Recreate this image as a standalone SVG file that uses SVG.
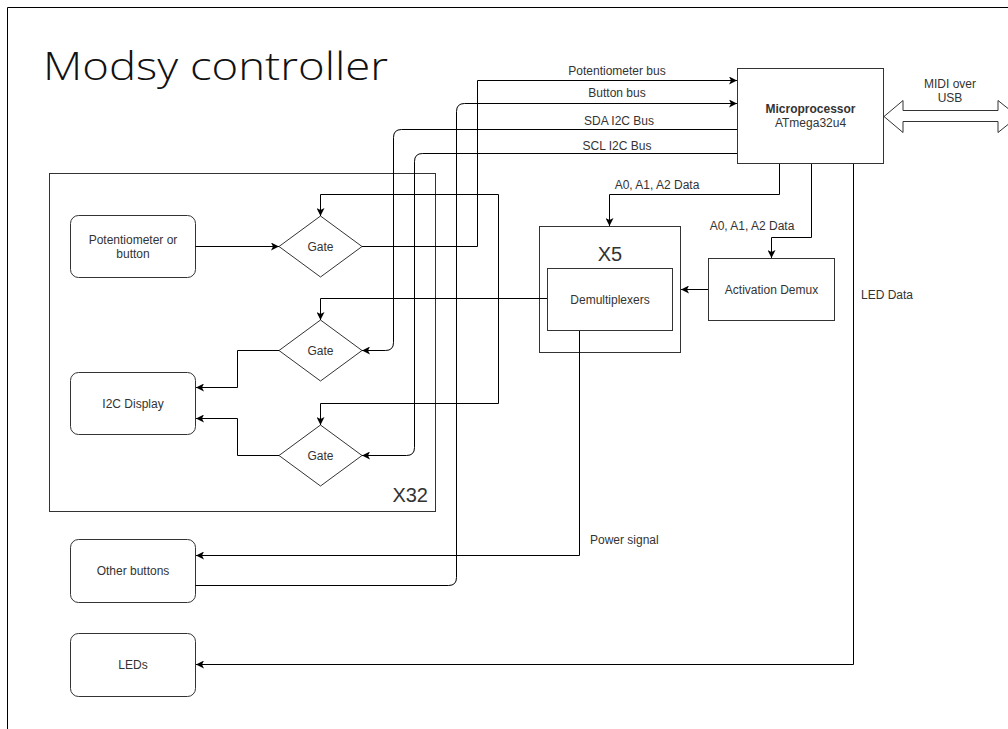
<svg xmlns="http://www.w3.org/2000/svg" width="1008" height="729" viewBox="0 0 1008 729">
  <style>
    .frame { fill: none; stroke: #000; stroke-width: 1; }
    .box { fill: #fff; stroke: #333; stroke-width: 1; }
    .wire { fill: none; stroke: #000; stroke-width: 1; }
    .wire-end { fill: none; stroke: #000; stroke-width: 1; marker-end: url(#arrow); }
    .lbl { font-family: "Liberation Sans", Arial, sans-serif; font-size: 12px; fill: #333; }
    .mid { text-anchor: middle; }
    .big { font-family: "Liberation Sans", Arial, sans-serif; font-size: 20px; fill: #333; }
    .title { font-family: "Open Sans", "Liberation Sans", sans-serif; font-size: 38px; font-weight: 300; fill: #111; }
  </style>
  <defs>
    <marker id="arrow" viewBox="0 0 8 8" refX="8" refY="4" markerWidth="8" markerHeight="8" markerUnits="userSpaceOnUse" orient="auto">
      <path d="M0,0 L8,4 L0,8 L2,4 Z" fill="#000"/>
    </marker>
  </defs>

  <rect width="1008" height="729" fill="#fff"/>
  <path class="frame" d="M7.5,729 V7.5 H1008"/>
  <text class="title" x="43" y="80" textLength="345" lengthAdjust="spacingAndGlyphs">Modsy controller</text>

  <!-- repeated block container -->
  <g id="x32-group">
    <rect class="box" x="49.5" y="173.5" width="386" height="338" fill="none" style="fill:none"/>
    <text class="big" x="428" y="502" text-anchor="end">X32</text>
  </g>

  <g id="pot-button">
    <rect class="box" x="70.5" y="215.5" width="125" height="62" rx="8"/>
    <text class="lbl mid" x="133" y="244">Potentiometer or</text>
    <text class="lbl mid" x="133" y="258">button</text>
  </g>

  <g id="gate1">
    <polygon class="box" points="320.5,216 362,246.5 320.5,277 279,246.5"/>
    <text class="lbl mid" x="320.5" y="251">Gate</text>
  </g>

  <g id="gate2">
    <polygon class="box" points="320.5,320 362,350.5 320.5,381 279,350.5"/>
    <text class="lbl mid" x="320.5" y="355">Gate</text>
  </g>

  <g id="gate3">
    <polygon class="box" points="320.5,425 362,455.5 320.5,486 279,455.5"/>
    <text class="lbl mid" x="320.5" y="460">Gate</text>
  </g>

  <g id="i2c-display">
    <rect class="box" x="70.5" y="372.5" width="125" height="62" rx="8"/>
    <text class="lbl mid" x="133" y="408">I2C Display</text>
  </g>

  <g id="other-buttons">
    <rect class="box" x="70.5" y="539.5" width="125" height="63" rx="8"/>
    <text class="lbl mid" x="133" y="575">Other buttons</text>
  </g>

  <g id="leds">
    <rect class="box" x="70.5" y="633.5" width="125" height="63" rx="8"/>
    <text class="lbl mid" x="133" y="669">LEDs</text>
  </g>

  <g id="x5-group">
    <rect class="box" x="539.5" y="226.5" width="141" height="126"/>
    <text class="big mid" x="610" y="261">X5</text>
  </g>

  <g id="demultiplexers">
    <rect class="box" x="547.5" y="268.5" width="125" height="62"/>
    <text class="lbl mid" x="610" y="304">Demultiplexers</text>
  </g>

  <g id="activation-demux">
    <rect class="box" x="708.5" y="258.5" width="126" height="62"/>
    <text class="lbl mid" x="771.5" y="294">Activation Demux</text>
  </g>

  <g id="microprocessor">
    <rect class="box" x="737.5" y="68.5" width="146" height="95"/>
    <text class="lbl mid" x="810.5" y="113" font-weight="bold">Microprocessor</text>
    <text class="lbl mid" x="810.5" y="127">ATmega32u4</text>
  </g>

  <g id="connectors">
    <path class="wire-end" d="M195.5,246.5 H279"/>
    <path class="wire-end" d="M362,246.5 H477.5 V80.5 H737"/>
    <path class="wire-end" d="M547,298.5 H498.5 V194.5 H320.5 V216"/>
    <path class="wire-end" d="M547,298.5 H320.5 V320"/>
    <path class="wire-end" d="M547,298.5 H498.5 V403.5 H320.5 V425"/>
    <path class="wire-end" d="M737,129.5 H401.5 Q393.5,129.5 393.5,137.5 V342.5 Q393.5,350.5 385.5,350.5 H362"/>
    <path class="wire-end" d="M737,153.5 H422.5 Q414.5,153.5 414.5,161.5 V447.5 Q414.5,455.5 406.5,455.5 H362"/>
    <path class="wire-end" d="M195.5,585.5 H448.5 Q456.5,585.5 456.5,577.5 V111.5 Q456.5,103.5 464.5,103.5 H737"/>
    <path class="wire-end" d="M279,350.5 H237.5 V387.5 H196"/>
    <path class="wire-end" d="M279,455.5 H237.5 V418.5 H196"/>
    <path class="wire-end" d="M779.5,164 V194.5 H609.5 V226"/>
    <path class="wire-end" d="M811.5,164 V237.5 H771.5 V258"/>
    <path class="wire-end" d="M708,289.5 H681"/>
    <path class="wire-end" d="M579.5,331 V555.5 H196"/>
    <path class="wire-end" d="M853.5,164 V664.5 H196"/>
    <polygon class="box" points="884,116.5 903,100.5 903,110.5 998,110.5 998,100.5 1018,116.5 998,132.5 998,121.5 903,121.5 903,132.5"/>

    <text class="lbl mid" x="617" y="75">Potentiometer bus</text>
    <text class="lbl mid" x="617" y="97">Button bus</text>
    <text class="lbl mid" x="619" y="125">SDA I2C Bus</text>
    <text class="lbl mid" x="617" y="150">SCL I2C Bus</text>
    <text class="lbl mid" x="657" y="189">A0, A1, A2 Data</text>
    <text class="lbl mid" x="752" y="230">A0, A1, A2 Data</text>
    <text class="lbl" x="861" y="299">LED Data</text>
    <text class="lbl" x="590" y="544">Power signal</text>
    <text class="lbl mid" x="950" y="88">MIDI over</text>
    <text class="lbl mid" x="950" y="102">USB</text>
  </g>
</svg>
